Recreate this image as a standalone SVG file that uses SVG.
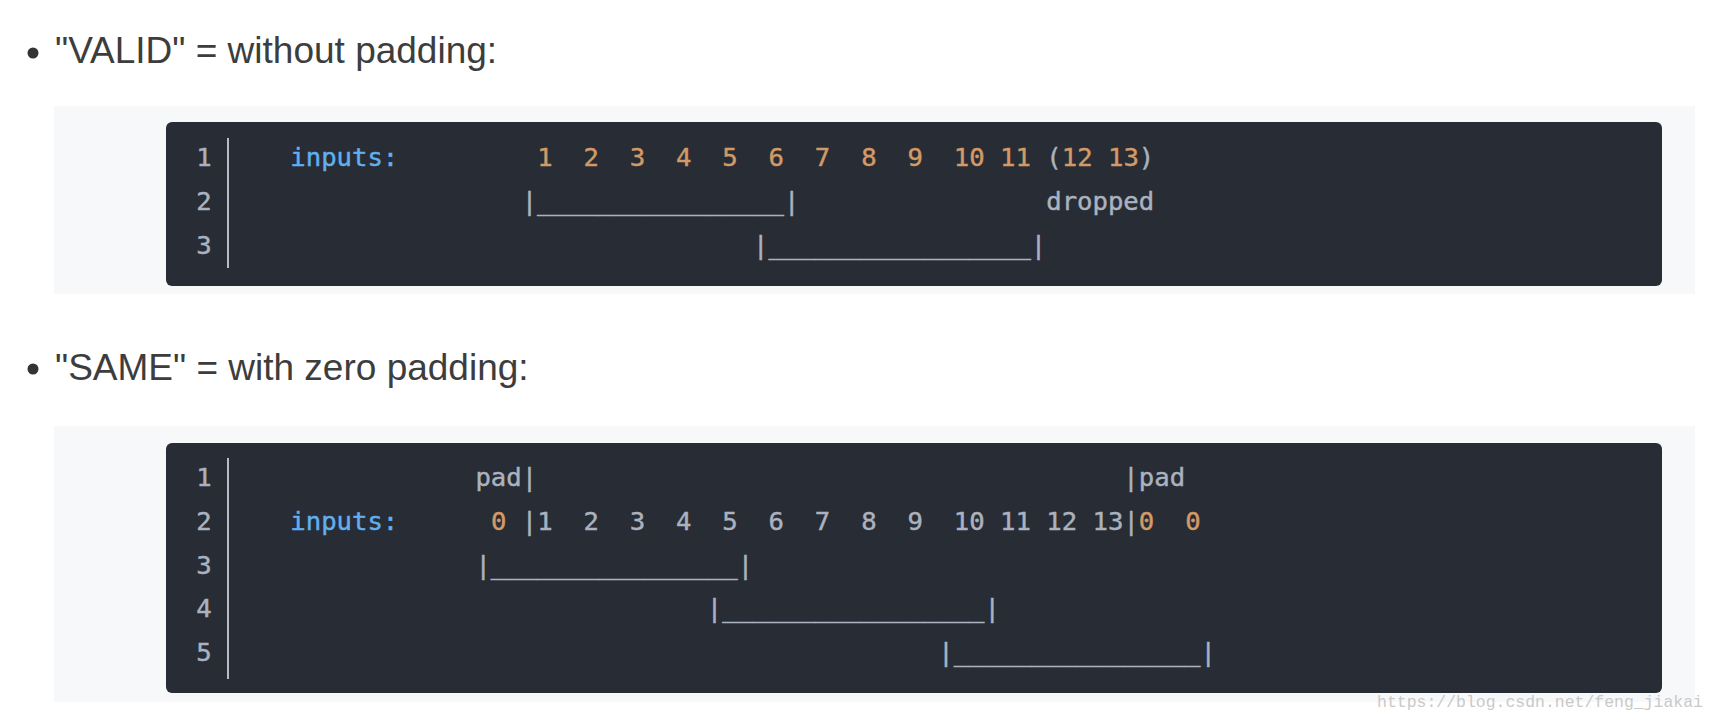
<svg xmlns="http://www.w3.org/2000/svg" width="1718" height="722" viewBox="0 0 1718 722">
<style>
.h{font-family:"Liberation Sans","Helvetica",Arial,sans-serif;font-size:37px;fill:#3d3d3d}
.panel{fill:#f6f8fa}
.box{fill:#282c34}
.code{font-family:"DejaVu Sans Mono","Liberation Mono",monospace;font-size:25.63px;fill:#abb2bf;stroke:#abb2bf;stroke-width:0.45}
.ln{font-family:"DejaVu Sans Mono","Liberation Mono",monospace;font-size:25.63px;fill:#abb2bf;stroke:#abb2bf;stroke-width:0.45;text-anchor:middle}
.kw{fill:#61afef;stroke:#61afef}
.num{fill:#d19a66;stroke:#d19a66}
.sep{stroke:#b8bcc4;stroke-width:2}
.wm{font-family:"Liberation Mono",monospace;font-size:17px;fill:#c9c9c9}
</style>
<rect width="1718" height="722" fill="#ffffff"/>
<g id="valid-section">
  <circle cx="33" cy="53" r="5.5" fill="#333333"/>
  <text class="h" x="55" y="63">"VALID" = without padding:</text>
  <rect class="panel" x="54" y="106" width="1641" height="188"/>
  <rect class="box" x="166" y="122" width="1496" height="164" rx="6"/>
  <line class="sep" x1="228" y1="138" x2="228" y2="268"/>
  <text class="ln" x="204" y="166">1</text>
  <text class="ln" x="204" y="210">2</text>
  <text class="ln" x="204" y="254">3</text>
  <text class="code" x="244" y="166" xml:space="preserve">   <tspan class="kw">inputs:</tspan>         <tspan class="num">1  2  3  4  5  6  7  8  9  10 11</tspan> (<tspan class="num">12 13</tspan>)</text>
  <text class="code" x="244" y="210" xml:space="preserve">                  |________________|                dropped</text>
  <text class="code" x="244" y="254" xml:space="preserve">                                 |_________________|</text>
</g>
<g id="same-section">
  <circle cx="33" cy="369" r="5.5" fill="#333333"/>
  <text class="h" x="55" y="380">"SAME" = with zero padding:</text>
  <rect class="panel" x="54" y="426" width="1641" height="276"/>
  <rect class="box" x="166" y="443" width="1496" height="250" rx="6"/>
  <line class="sep" x1="228" y1="458" x2="228" y2="679"/>
  <text class="ln" x="204" y="486">1</text>
  <text class="ln" x="204" y="530">2</text>
  <text class="ln" x="204" y="574">3</text>
  <text class="ln" x="204" y="617">4</text>
  <text class="ln" x="204" y="661">5</text>
  <text class="code" x="244" y="486" xml:space="preserve">               pad|                                      |pad</text>
  <text class="code" x="244" y="530" xml:space="preserve">   <tspan class="kw">inputs:</tspan>      <tspan class="num">0</tspan> |1  2  3  4  5  6  7  8  9  10 11 12 13|<tspan class="num">0  0</tspan></text>
  <text class="code" x="244" y="574" xml:space="preserve">               |________________|</text>
  <text class="code" x="244" y="617" xml:space="preserve">                              |_________________|</text>
  <text class="code" x="244" y="661" xml:space="preserve">                                             |________________|</text>
</g>
<g id="watermark">
  <text class="wm" x="1377" y="707" textLength="326" lengthAdjust="spacingAndGlyphs">https://blog.csdn.net/feng_jiakai</text>
</g>
</svg>
